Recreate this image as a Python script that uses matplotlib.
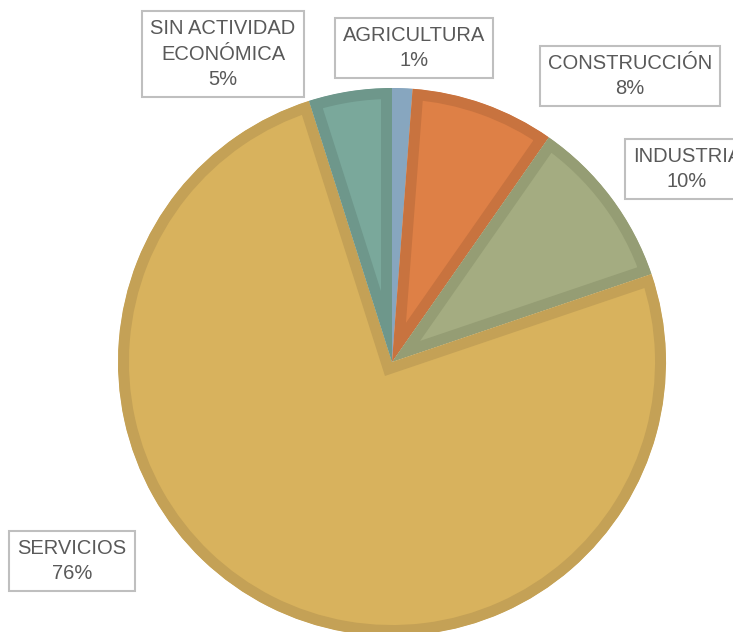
import matplotlib
matplotlib.use('Agg')
import matplotlib.pyplot as plt

# data
categories = ['AGRICULTURA', 'CONSTRUCCIÓN', 'INDUSTRIA', 'SERVICIOS', 'SIN ACTIVIDAD\nECONÓMICA']
shares = [1.2, 8.5, 10.1, 75.3, 4.9]
pct_labels = ['1%', '8%', '10%', '76%', '5%']

fills = ['#87A6BF', '#DE8046', '#A4AC81', '#D8B25D', '#7AA89B']
edges = ['#87A6BF', '#C8733F', '#959D74', '#C4A156', '#6E978B']

# label box centres in pixels (from top-left)
label_pos = [(414, 48), (630, 76), (687, 169), (72, 561), (223, 54)]

W, H = 733, 632
plt.rcParams['font.family'] = ['Liberation Sans', 'DejaVu Sans']

fig = plt.figure(figsize=(W / 100, H / 100), dpi=100)
ax = fig.add_axes([0, 0, 1, 1])

wedges, _ = ax.pie(shares, startangle=90, counterclock=False, colors=fills, radius=1,
                   wedgeprops=dict(linewidth=15.8))
for w, ec in zip(wedges, edges):
    w.set_edgecolor(ec)
    w.set_joinstyle('miter')
    # pie turns clipping off; clip each wedge to itself so only the inner half of the stroke shows
    w.set_clip_on(True)
    w.set_clip_path(w)

# pie centre and radius in pixels
cx, cy, r = 392, 362, 274
ax.set_xlim(-cx / r, (W - cx) / r)
ax.set_ylim(-(H - cy) / r, cy / r)
ax.axis('off')

for cat, pct, (px, py) in zip(categories, pct_labels, label_pos):
    ax.text(px / W, 1 - py / H, cat + '\n' + pct, transform=ax.transAxes,
            ha='center', va='center', fontsize=14.5, color='#595959', linespacing=1.45,
            bbox=dict(boxstyle='square,pad=0.4', fc='white', ec='#BFBFBF', lw=1.5))

fig.savefig('out.png', dpi=100)
